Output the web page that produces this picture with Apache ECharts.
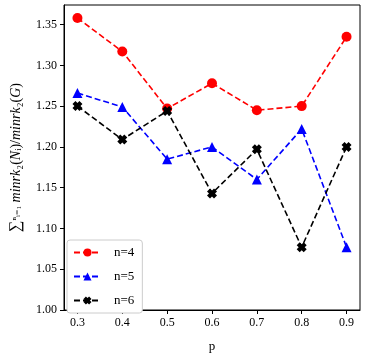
<!DOCTYPE html>
<html>
<head>
<meta charset="utf-8">
<script src="https://cdn.jsdelivr.net/npm/echarts@6/dist/echarts.min.js"></script>
<style>
  html, body { margin: 0; padding: 0; background: #fff; }
  #chart-container { width: 367px; height: 358px; }
</style>
</head>
<body>
<div id="chart-container"></div>
<script>
// values
var pValues = [0.3, 0.4, 0.5, 0.6, 0.7, 0.8, 0.9];
var n4 = [1.358, 1.317, 1.247, 1.278, 1.245, 1.250, 1.335];
var n5 = [1.266, 1.249, 1.185, 1.200, 1.160, 1.222, 1.077];
var n6 = [1.250, 1.209, 1.244, 1.143, 1.197, 1.077, 1.200];
var xTicks = [0.3, 0.4, 0.5, 0.6, 0.7, 0.8, 0.9];
var yTicks = [1.00, 1.05, 1.10, 1.15, 1.20, 1.25, 1.30, 1.35];
var seriesNames = ['n=4', 'n=5', 'n=6'];

var font = '"Liberation Serif", "DejaVu Serif", serif';
// bold filled "X" marker like matplotlib's 'X'
var xMarker = 'path://M0,3 L3,0 L5,2 L7,0 L10,3 L8,5 L10,7 L7,10 L5,8 L3,10 L0,7 L2,5 Z';

function pairs(ys) {
  return pValues.map(function (p, i) { return [p, ys[i]]; });
}

function makeSeries(name, ys, color, symbol, size) {
  return {
    name: name,
    type: 'line',
    data: pairs(ys),
    symbol: symbol,
    symbolSize: size,
    showAllSymbol: true,
    color: color,
    itemStyle: { color: color },
    lineStyle: { color: color, width: 1.6, type: [6, 3] },
    emphasis: { disabled: true },
    animation: false
  };
}

var dom = document.getElementById('chart-container');
var myChart = echarts.init(dom, null, { renderer: 'canvas' });

var option = {
  backgroundColor: '#fff',
  animation: false,
  grid: {
    left: 60, right: 7, top: 5, bottom: 44,
    show: true, borderColor: '#000', borderWidth: 1, backgroundColor: 'transparent'
  },
  legend: {
    left: 67, top: 240,
    orient: 'vertical',
    data: seriesNames,
    itemWidth: 27, itemHeight: 10, itemGap: 11,
    padding: [6, 8, 6, 6],
    borderColor: '#ccc', borderWidth: 1, borderRadius: 3,
    backgroundColor: '#fff',
    textStyle: { fontFamily: font, fontSize: 13, color: '#000', padding: [0, 0, 0, 8] }
  },
  xAxis: {
    type: 'value',
    min: 0.27, max: 0.93,
    name: 'p',
    nameLocation: 'middle',
    nameGap: 30,
    nameTextStyle: { fontFamily: font, fontSize: 13, color: '#000' },
    axisLine: { show: true, lineStyle: { color: '#000', width: 1 } },
    axisTick: { show: true, inside: false, length: 4, customValues: xTicks, lineStyle: { color: '#000' } },
    axisLabel: {
      customValues: xTicks, margin: 7,
      fontFamily: font, fontSize: 12, color: '#000',
      formatter: function (v) { return v.toFixed(1); }
    },
    splitLine: { show: false }
  },
  yAxis: {
    type: 'value',
    min: 1.0, max: 1.374,
    name: '{s|∑}{sc|ⁿ}{sc|ᵢ₌₁} {i|minrk}{n|₂(}{i|N}{n|ᵢ)/}{i|minrk}{n|₂(}{i|G}{n|)}',
    nameLocation: 'middle',
    nameGap: 40,
    nameRotate: 90,
    nameTextStyle: {
      fontFamily: font, fontSize: 13, color: '#000',
      rich: {
        s: { fontFamily: font, fontSize: 16, color: '#000' },
        sc: { fontFamily: font, fontSize: 11, color: '#000' },
        i: { fontFamily: font, fontSize: 14, fontStyle: 'italic', color: '#000' },
        n: { fontFamily: font, fontSize: 14, color: '#000' }
      }
    },
    axisLine: { show: true, lineStyle: { color: '#000', width: 1 } },
    axisTick: { show: true, inside: false, length: 4, customValues: yTicks, lineStyle: { color: '#000' } },
    axisLabel: {
      customValues: yTicks, margin: 7,
      fontFamily: font, fontSize: 12, color: '#000',
      formatter: function (v) { return v.toFixed(2); }
    },
    splitLine: { show: false }
  },
  series: [
    makeSeries(seriesNames[0], n4, '#ff0000', 'circle', 10),
    makeSeries(seriesNames[1], n5, '#0000ff', 'triangle', 10),
    makeSeries(seriesNames[2], n6, '#000000', xMarker, 10)
  ]
};

myChart.setOption(option);
window.addEventListener('resize', myChart.resize);
</script>
</body>
</html>
